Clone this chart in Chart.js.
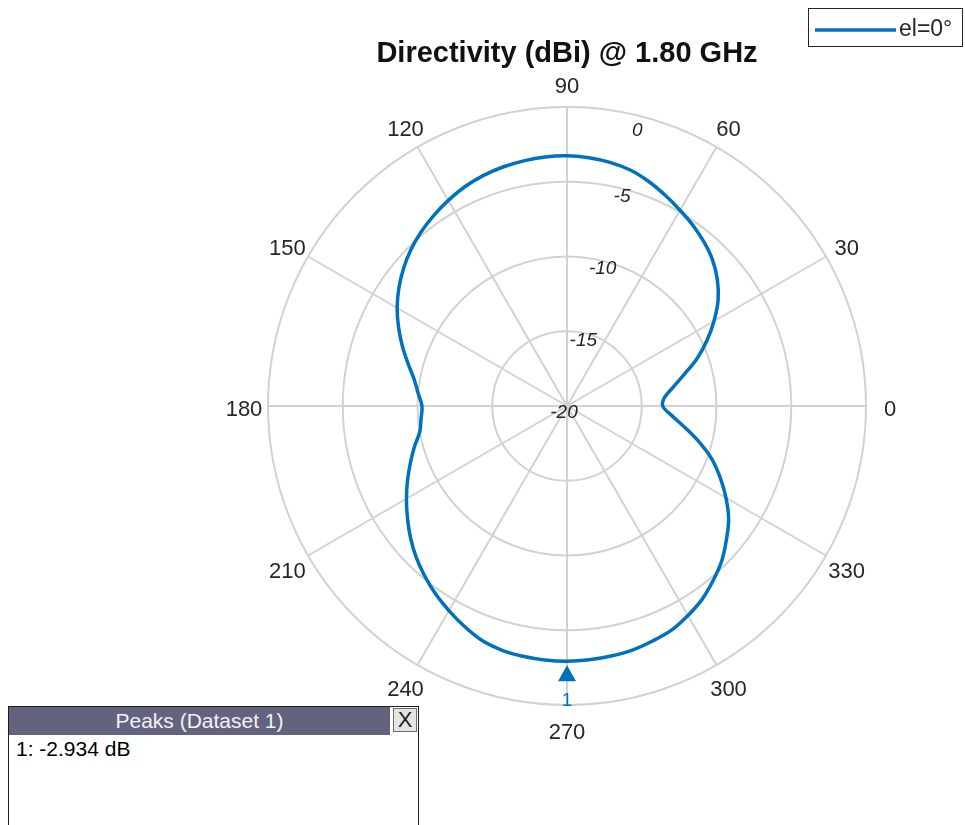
<!DOCTYPE html>
<html>
<head>
<meta charset="utf-8">
<script src="https://cdn.jsdelivr.net/npm/chart.js@4.4.0/dist/chart.umd.min.js"></script>
<style>
  html, body { margin: 0; padding: 0; background: #fff; }
  #wrap { position: relative; width: 965px; height: 825px; overflow: hidden; font-family: 'Liberation Sans', Arial, sans-serif; }
  #chart { position: absolute; left: 0; top: 0; }
  #peaks { position: absolute; left: 8px; top: 706px; width: 409px; height: 150px; border: 1px solid #1e1e1e; background: #fff; }
  #peaks .hdr { position: relative; height: 28px; margin-right: 28px; background: #63637f; color: #f2f2f2; font-size: 21px; line-height: 28px; text-align: center; }
  #peaks .x { position: absolute; right: 1px; top: 1px; width: 24px; height: 24px; box-sizing: border-box; background: #e4e4e4; border: 1px solid #6e6e6e; color: #1e1e1e; font-size: 22px; line-height: 22px; text-align: center; }
  #peaks .row { font-size: 21px; padding: 2px 0 0 7px; color: #000; }
</style>
</head>
<body>
<div id="wrap">
  <canvas id="chart" width="965" height="825"></canvas>
  <div id="peaks">
    <div class="hdr">Peaks (Dataset 1)</div>
    <div class="x">X</div>
    <div class="row" id="peakRow"></div>
  </div>
</div>
<script>
// azimuth angle (deg) and directivity (dBi), 5 deg steps
const angleDeg = [
  0, 5, 10, 15, 20, 25, 30, 35, 40, 45, 50, 55,
  60, 65, 70, 75, 80, 85, 90, 95, 100, 105, 110, 115,
  120, 125, 130, 135, 140, 145, 150, 155, 160, 165, 170, 175,
  180, 185, 190, 195, 200, 205, 210, 215, 220, 225, 230, 235,
  240, 245, 250, 255, 260, 265, 270, 275, 280, 285, 290, 295,
  300, 305, 310, 315, 320, 325, 330, 335, 340, 345, 350, 355
];
const directivity = [
  -13.6, -13.45, -12.8, -11.9, -10.75, -9.68, -8.65, -7.66, -6.87, -6.22, -5.72, -5.28,
  -4.88, -4.45, -4.02, -3.66, -3.45, -3.33, -3.26, -3.28, -3.35, -3.45, -3.6, -3.82,
  -4.12, -4.45, -4.81, -5.23, -5.72, -6.27, -6.88, -7.57, -8.28, -8.99, -9.61, -10.0,
  -10.3, -10.2, -10.0, -9.43, -8.85, -8.23, -7.6, -6.97, -6.33, -5.72, -5.18, -4.66,
  -4.2, -3.74, -3.32, -3.1, -3.0, -2.95, -2.934, -2.96, -3.02, -3.1, -3.27, -3.46,
  -3.82, -4.23, -4.78, -5.36, -6.08, -6.8, -7.72, -8.7, -9.71, -10.9, -12.05, -13.0
];
const angleTicks = [0, 30, 60, 90, 120, 150, 180, 210, 240, 270, 300, 330];
const radialTicks = [-20, -15, -10, -5, 0];
const seriesLabel = 'el=0°';
const titleText = 'Directivity (dBi) @ 1.80 GHz';

const lineBlue = '#0072bd';
const gridGray = '#d2d2d2';
const textDark = '#262626';

// radar runs clockwise from startAngle, polar angles run counter-clockwise from 0
const n = angleDeg.length;
const order = angleDeg.map((_, i) => (n - i) % n);
const labels = order.map(i => angleDeg[i]);
const values = order.map(i => directivity[i]);

let peakIdx = 0;
values.forEach((v, i) => { if (v > values[peakIdx]) peakIdx = i; });
document.getElementById('peakRow').textContent = '1: ' + values[peakIdx].toFixed(3) + ' dB';

const polarDecor = {
  id: 'polarDecor',
  afterDatasetsDraw(chart) {
    const ctx = chart.ctx;
    const r = chart.scales.r;
    ctx.save();

    // angle labels
    ctx.fillStyle = textDark;
    ctx.font = '22px "Liberation Sans", Arial, sans-serif';
    ctx.textAlign = 'center';
    ctx.textBaseline = 'middle';
    angleTicks.forEach(a => {
      const i = labels.indexOf(a);
      const p = r.getPointPosition(i, r.drawingArea + 24);
      ctx.fillText(String(a), p.x, p.y + 4);
    });

    // radial tick labels along the 75 deg line, outer one pulled inside
    const i75 = labels.indexOf(75);
    ctx.font = 'italic 19px "Liberation Sans", Arial, sans-serif';
    radialTicks.forEach(v => {
      const p = r.getPointPosition(i75, r.getDistanceFromCenterForValue(v));
      const outer = v === r.max;
      ctx.fillText(String(v), p.x - (outer ? 7 : 3), p.y + (outer ? 14 : 7));
    });

    // peak marker
    const pt = chart.getDatasetMeta(0).data[peakIdx];
    ctx.fillStyle = lineBlue;
    ctx.beginPath();
    ctx.moveTo(pt.x, pt.y + 4);
    ctx.lineTo(pt.x + 9, pt.y + 20);
    ctx.lineTo(pt.x - 9, pt.y + 20);
    ctx.closePath();
    ctx.fill();
    ctx.font = '19px "Liberation Sans", Arial, sans-serif';
    ctx.fillText('1', pt.x, pt.y + 40);

    // legend box
    ctx.strokeStyle = textDark;
    ctx.lineWidth = 1;
    ctx.strokeRect(808.5, 8.5, 154, 38);
    ctx.strokeStyle = lineBlue;
    ctx.lineWidth = 3.5;
    ctx.beginPath();
    ctx.moveTo(815, 30);
    ctx.lineTo(896, 30);
    ctx.stroke();
    ctx.fillStyle = textDark;
    ctx.textAlign = 'left';
    ctx.font = '23px "Liberation Sans", Arial, sans-serif';
    ctx.fillText(chart.data.datasets[0].label, 899, 30);

    ctx.restore();
  }
};

Chart.defaults.font.family = '"Liberation Sans", Arial, sans-serif';

new Chart(document.getElementById('chart'), {
  type: 'radar',
  data: {
    labels: labels,
    datasets: [{
      label: seriesLabel,
      data: values,
      borderColor: lineBlue,
      backgroundColor: 'transparent',
      borderWidth: 3.5,
      pointRadius: 0,
      fill: false,
      tension: 0.35
    }]
  },
  options: {
    responsive: false,
    animation: false,
    devicePixelRatio: 1,
    layout: { padding: { left: 268, right: 99, top: 0, bottom: 119 } },
    plugins: {
      legend: { display: false },
      tooltip: { enabled: false },
      title: {
        display: true,
        text: titleText,
        color: '#111',
        font: { size: 29, weight: 'bold' },
        padding: { top: 37, bottom: 36 }
      }
    },
    scales: {
      r: {
        min: -20,
        max: 0,
        startAngle: 90,
        ticks: { display: false, stepSize: 5 },
        grid: { circular: true, color: gridGray, lineWidth: 2 },
        angleLines: {
          color: (c) => (labels[c.index] % 30 === 0 ? gridGray : null),
          lineWidth: 2
        },
        pointLabels: { display: false }
      }
    }
  },
  plugins: [polarDecor]
});
</script>
</body>
</html>
